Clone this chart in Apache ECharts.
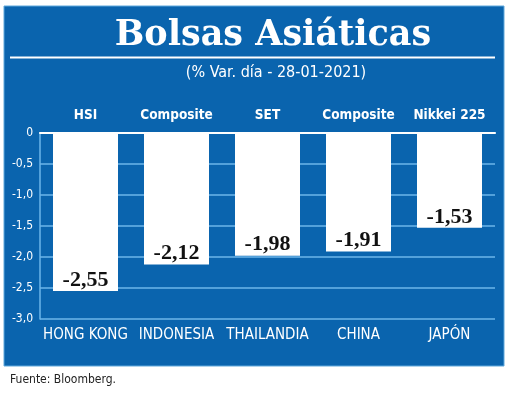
<!DOCTYPE html>
<html>
<head>
<meta charset="utf-8">
<script src="https://cdn.jsdelivr.net/npm/echarts@6/dist/echarts.min.js"></script>
<style>html,body{margin:0;padding:0;background:#fff}#c{width:520px;height:396px}</style>
</head>
<body>
<div id="c"></div>
<script>
var countries = ['HONG KONG', 'INDONESIA', 'THAILANDIA', 'CHINA', 'JAPÓN'];
var indices = ['HSI', 'Composite', 'SET', 'Composite', 'Nikkei 225'];
var values = [-2.55, -2.12, -1.98, -1.91, -1.53];
var yTicks = { min: -3, max: 0, interval: 0.5 };

var BLUE = '#0a64ae';
var GRID = '#6cb6ea';
var NARROW = '"DejaVu Sans Condensed","Liberation Sans Narrow",sans-serif';
var SERIF = '"Liberation Serif","DejaVu Serif",serif';
function comma(v, d) { return v.toFixed(d).replace('.', ','); }

var chart = echarts.init(document.getElementById('c'), null, { renderer: 'canvas' });
chart.setOption({
  animation: false,
  backgroundColor: '#ffffff',
  graphic: [
    { type: 'rect', z: -10, shape: { x: 4, y: 6, width: 500, height: 360 }, style: { fill: BLUE, stroke: '#5ea8dc', lineWidth: 1 } },
    { type: 'text', x: 273, y: 36, style: { text: 'Bolsas Asiáticas', fill: '#fff', font: 'bold 35px "DejaVu Serif",serif', textAlign: 'center', textVerticalAlign: 'middle' } },
    { type: 'rect', shape: { x: 10, y: 56.5, width: 485, height: 2 }, style: { fill: '#fff' } },
    { type: 'text', x: 276, y: 73, style: { text: '(% Var. día - 28-01-2021)', fill: '#fff', font: '16px ' + NARROW, textAlign: 'center', textVerticalAlign: 'middle' } },
    { type: 'text', x: 10, y: 380, style: { text: 'Fuente: Bloomberg.', fill: '#222', font: '12px ' + NARROW, textAlign: 'left', textVerticalAlign: 'middle' } }
  ],
  grid: { left: 40, right: 25, top: 133, bottom: 77 },
  xAxis: [
    {
      type: 'category', data: countries, position: 'bottom',
      axisLine: { show: true, lineStyle: { color: GRID, width: 1.5 } },
      axisTick: { show: false },
      axisLabel: { color: '#fff', fontFamily: NARROW, fontSize: 15, margin: 9, interval: 0 }
    },
    {
      type: 'category', data: indices, position: 'top',
      axisLine: { show: true, lineStyle: { color: '#fff', width: 2 } },
      axisTick: { show: false },
      axisLabel: { color: '#fff', fontFamily: NARROW, fontSize: 13.5, fontWeight: 'bold', margin: 11, interval: 0 }
    }
  ],
  yAxis: {
    type: 'value', min: yTicks.min, max: yTicks.max, interval: yTicks.interval,
    axisLine: { show: true, lineStyle: { color: GRID, width: 1.5 } },
    axisTick: { show: false },
    splitLine: { show: true, lineStyle: { color: GRID, width: 1.5 } },
    axisLabel: {
      color: '#fff', fontFamily: NARROW, fontSize: 12, margin: 7,
      formatter: function (v) { return v === 0 ? '0' : comma(v, 1); }
    }
  },
  series: [{
    type: 'bar', data: values, barWidth: 65, xAxisIndex: 0,
    itemStyle: { color: '#ffffff' },
    label: {
      show: true, position: 'insideBottom', distance: 0,
      color: '#111', fontFamily: SERIF, fontWeight: 'bold', fontSize: 22,
      formatter: function (p) { return comma(p.value, 2); }
    }
  }]
});
</script>
</body>
</html>
